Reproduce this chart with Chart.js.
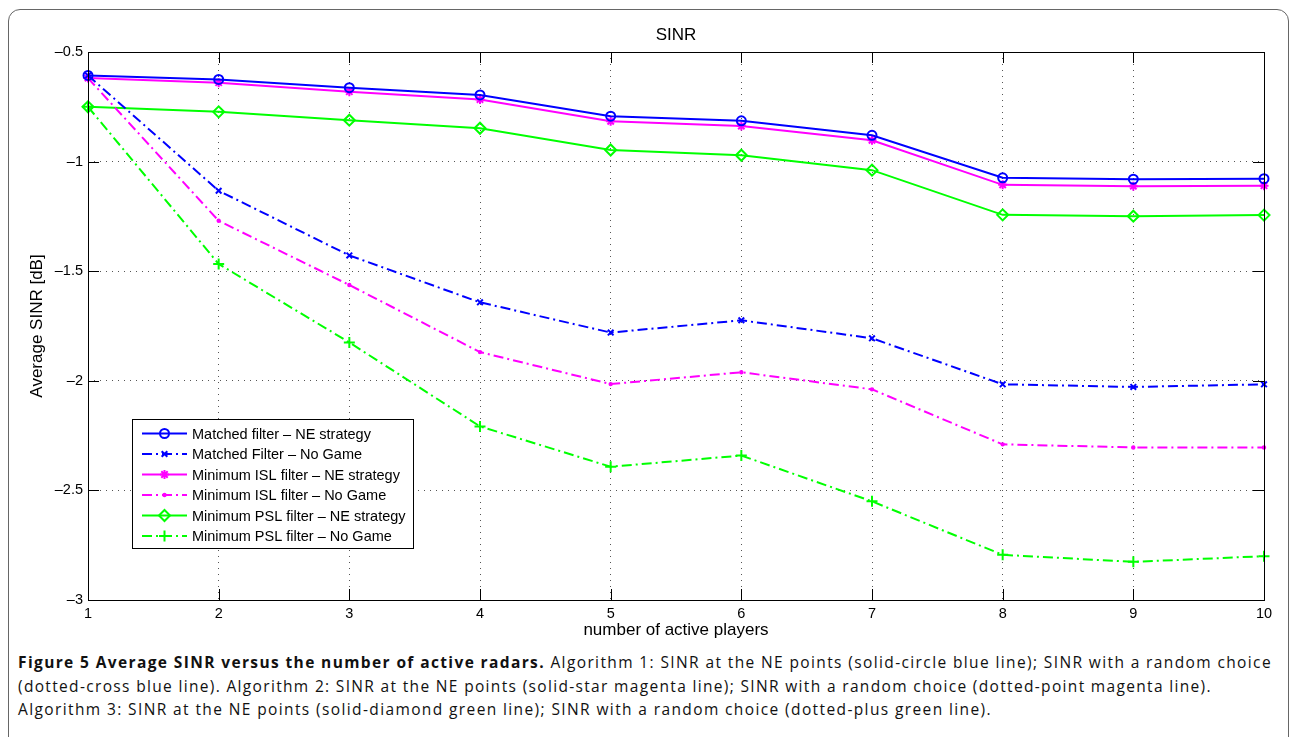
<!DOCTYPE html>
<html>
<head>
<meta charset="utf-8">
<script src="https://cdn.jsdelivr.net/npm/chart.js@4/dist/chart.umd.min.js"></script>
<style>
  html, body { margin: 0; padding: 0; background: #fff; width: 1292px; height: 737px; overflow: hidden; }
  #moldura { position: absolute; left: 8px; top: 9px; width: 1281px; height: 800px; border: 1px solid #666; border-radius: 12px; box-sizing: border-box; }
  #grafico { position: absolute; left: 0; top: 0; }
  #legenda_fig { position: absolute; left: 18px; top: 651px; font-family: "Open Sans", sans-serif; font-size: 15.5px; line-height: 23.5px; color: #111; }
  #legenda_fig div { white-space: nowrap; display: block; width: max-content; }
</style>
</head>
<body>
<div id="moldura"></div>
<canvas id="grafico" width="1292" height="642"></canvas>
<div id="legenda_fig">
  <div><b>Figure 5 Average SINR versus the number of active radars.</b> Algorithm 1: SINR at the NE points (solid-circle blue line); SINR with a random choice</div>
  <div>(dotted-cross blue line). Algorithm 2: SINR at the NE points (solid-star magenta line); SINR with a random choice (dotted-point magenta line).</div>
  <div>Algorithm 3: SINR at the NE points (solid-diamond green line); SINR with a random choice (dotted-plus green line).</div>
</div>
<script>
// dados
const jogadores = ["1", "2", "3", "4", "5", "6", "7", "8", "9", "10"];
const mf_ne  = [-0.607, -0.625, -0.663, -0.696, -0.793, -0.814, -0.880, -1.074, -1.080, -1.078];
const mf_ng  = [-0.607, -1.133, -1.428, -1.642, -1.780, -1.724, -1.806, -2.016, -2.028, -2.016];
const isl_ne = [-0.619, -0.640, -0.681, -0.717, -0.816, -0.838, -0.903, -1.106, -1.112, -1.110];
const isl_ng = [-0.619, -1.270, -1.563, -1.869, -2.015, -1.961, -2.039, -2.290, -2.304, -2.304];
const psl_ne = [-0.750, -0.773, -0.811, -0.848, -0.947, -0.971, -1.039, -1.243, -1.249, -1.244];
const psl_ng = [-0.750, -1.467, -1.825, -2.208, -2.392, -2.341, -2.550, -2.794, -2.826, -2.800];

const rotulos = [
  "Matched filter \u2013 NE strategy",
  "Matched Filter \u2013 No Game",
  "Minimum ISL filter \u2013 NE strategy",
  "Minimum ISL filter \u2013 No Game",
  "Minimum PSL filter \u2013 NE strategy",
  "Minimum PSL filter \u2013 No Game",
];

const AZUL = "#0000ff", MAGENTA = "#ff00ff", VERDE = "#00ff00";
const TRACO_PONTO = [10, 4, 2, 4];
const FONTE = "'Liberation Sans', Arial, Helvetica, sans-serif";

function serie(label, data, cor, tracejado, marcador, raio) {
  return {
    label: label,
    data: data,
    borderColor: cor,
    backgroundColor: cor,
    borderWidth: 2,
    borderDash: tracejado,
    tension: 0,
    pointStyle: marcador,
    pointRadius: raio,
    pointHoverRadius: raio,
    pointBorderWidth: 2,
    pointBorderColor: cor,
    pointBackgroundColor: marcador === "circle" && raio < 2 ? cor : "rgba(0,0,0,0)",
  };
}

const conjuntos = [
  serie(rotulos[0], mf_ne, AZUL, [], "circle", 4.5),
  serie(rotulos[1], mf_ng, AZUL, TRACO_PONTO, "crossRot", 4),
  serie(rotulos[2], isl_ne, MAGENTA, [], "star", 4.5),
  serie(rotulos[3], isl_ng, MAGENTA, TRACO_PONTO, "circle", 1.2),
  serie(rotulos[4], psl_ne, VERDE, [], "rectRot", 5.5),
  serie(rotulos[5], psl_ng, VERDE, TRACO_PONTO, "cross", 5.5),
];

function desenhaMarcador(ctx, ds, x, y) {
  ctx.save();
  ctx.setLineDash([]);
  ctx.strokeStyle = ds.pointBorderColor;
  ctx.fillStyle = ds.pointBackgroundColor;
  ctx.lineWidth = ds.pointBorderWidth;
  if (Chart.helpers && Chart.helpers.drawPoint) {
    Chart.helpers.drawPoint(ctx, { pointStyle: ds.pointStyle, radius: ds.pointRadius, rotation: 0, borderWidth: ds.pointBorderWidth }, x, y);
  }
  ctx.restore();
}

// caixa dos eixos, marcas para dentro e legenda
const moldura_eixos = {
  id: "moldura_eixos",
  afterDatasetsDraw(chart) {
    const ctx = chart.ctx;
    const a = chart.chartArea;
    const sx = chart.scales.x, sy = chart.scales.y;
    const L = 11;
    ctx.save();
    ctx.strokeStyle = "#000";
    ctx.lineWidth = 1;
    ctx.setLineDash([]);
    ctx.strokeRect(Math.round(a.left) + 0.5, Math.round(a.top) + 0.5, Math.round(a.right - a.left), Math.round(a.bottom - a.top));
    ctx.beginPath();
    jogadores.forEach((_, i) => {
      const px = Math.round(sx.getPixelForValue(i)) + 0.5;
      ctx.moveTo(px, a.bottom); ctx.lineTo(px, a.bottom - L);
      ctx.moveTo(px, a.top); ctx.lineTo(px, a.top + L);
    });
    sy.ticks.forEach((t) => {
      const py = Math.round(sy.getPixelForValue(t.value)) + 0.5;
      ctx.moveTo(a.left, py); ctx.lineTo(a.left + L, py);
      ctx.moveTo(a.right, py); ctx.lineTo(a.right - L, py);
    });
    ctx.stroke();
    ctx.restore();
  },
  afterDraw(chart) {
    const ctx = chart.ctx;
    const bx = 132.5, by = 419.5, bw = 281, bh = 129;
    ctx.save();
    ctx.fillStyle = "#fff";
    ctx.strokeStyle = "#000";
    ctx.lineWidth = 1;
    ctx.fillRect(bx, by, bw, bh);
    ctx.strokeRect(bx, by, bw, bh);
    ctx.font = "14.5px " + FONTE;
    ctx.textBaseline = "middle";
    chart.data.datasets.forEach((ds, i) => {
      const y = 433.5 + i * 20.5;
      ctx.strokeStyle = ds.borderColor;
      ctx.lineWidth = ds.borderWidth;
      ctx.setLineDash(ds.borderDash);
      ctx.beginPath();
      ctx.moveTo(142, y); ctx.lineTo(187, y);
      ctx.stroke();
      desenhaMarcador(ctx, ds, 164.5, y);
      ctx.fillStyle = "#000";
      ctx.fillText(ds.label, 192, y + 1);
    });
    ctx.restore();
  },
};

const chart = new Chart(document.getElementById("grafico"), {
  type: "line",
  data: { labels: jogadores, datasets: conjuntos },
  options: {
    responsive: false,
    animation: false,
    events: [],
    layout: { padding: { left: 0, right: 28, top: 0, bottom: 0 } },
    plugins: {
      legend: { display: false },
      tooltip: { enabled: false },
      title: {
        display: true,
        text: "SINR",
        fullSize: false,
        color: "#000",
        font: { family: FONTE, size: 17, weight: "normal" },
        padding: { top: 25, bottom: 6.6 },
      },
    },
    scales: {
      x: {
        type: "category",
        offset: false,
        grid: { color: "#555", lineWidth: 1, drawTicks: false },
        border: { display: false, dash: [1, 5] },
        ticks: { color: "#000", padding: 5, font: { family: FONTE, size: 14.5 }, maxRotation: 0 },
        title: { display: true, text: "number of active players", color: "#000", font: { family: FONTE, size: 17 }, padding: { top: 0, bottom: 1 } },
        afterFit(s) { s.height = 42; },
      },
      y: {
        min: -3,
        max: -0.5,
        grid: { color: "#555", lineWidth: 1, drawTicks: false },
        border: { display: false, dash: [1, 5] },
        ticks: {
          stepSize: 0.5,
          color: "#000",
          padding: 5,
          font: { family: FONTE, size: 14.5 },
          callback: (v) => String(v).replace("-", "\u2013"),
        },
        title: { display: true, text: "Average SINR [dB]", color: "#000", font: { family: FONTE, size: 17 }, padding: { top: 27, bottom: 0 } },
        afterFit(s) { s.width = 88; },
      },
    },
  },
  plugins: [moldura_eixos],
});

// ajusta a largura das linhas da legenda da figura
const larguras = [1254, 1194, 974];
document.querySelectorAll("#legenda_fig div").forEach((linha, i) => {
  const w = linha.getBoundingClientRect().width;
  const n = linha.textContent.length;
  linha.style.letterSpacing = ((larguras[i] - w) / n).toFixed(3) + "px";
});
</script>
</body>
</html>
